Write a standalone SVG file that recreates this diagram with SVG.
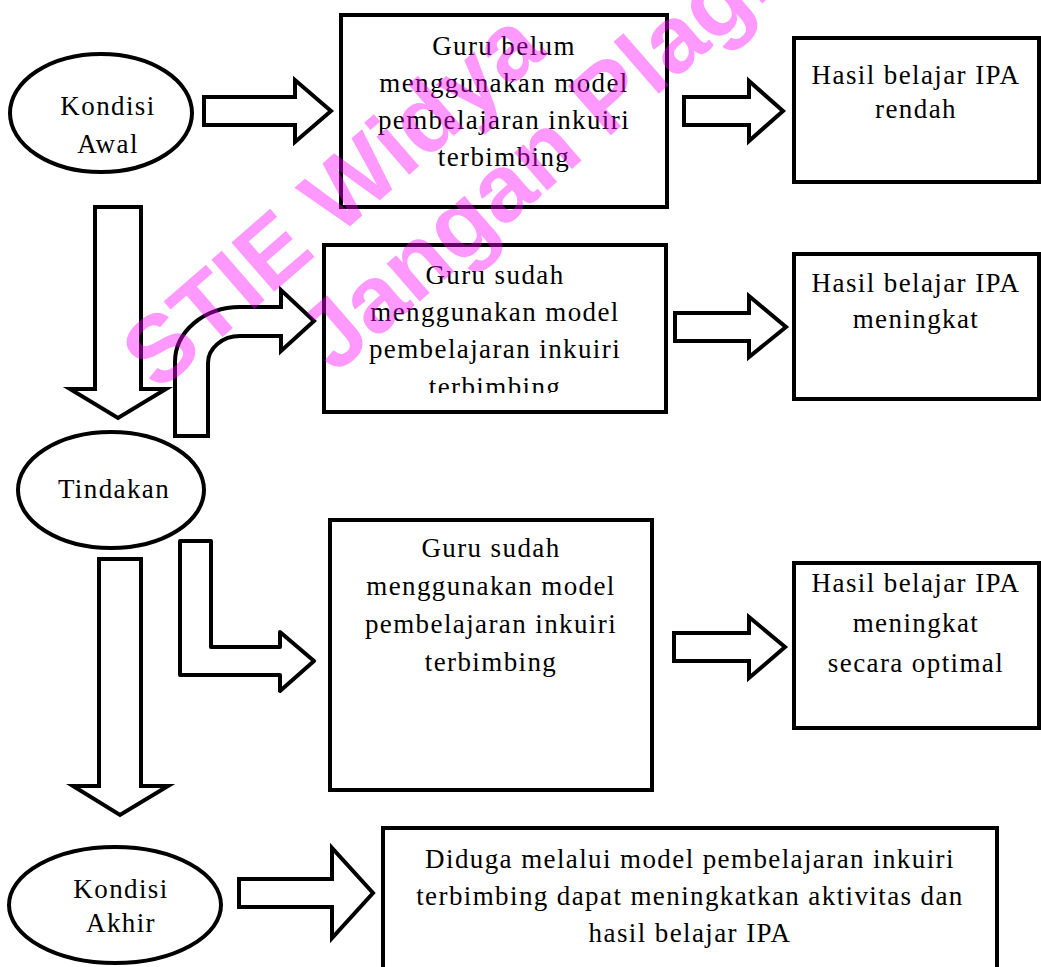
<svg xmlns="http://www.w3.org/2000/svg" width="1041" height="967" viewBox="0 0 1041 967">
<style>
.box{fill:#fff;stroke:#000;stroke-width:4}
.ell{fill:#fff;stroke:#000;stroke-width:4}
.arr{fill:#fff;stroke:#000;stroke-width:4;stroke-linejoin:miter}
.arr-r{fill:#fff;stroke:#000;stroke-width:4;stroke-linejoin:round}
.t{font-family:"Liberation Serif","Times New Roman",serif;font-size:27px;fill:#000;text-anchor:middle;letter-spacing:1.4px}
.wm{font-family:"Liberation Sans",Arial,sans-serif;font-weight:bold;font-size:95px;fill:#ff00ff;opacity:0.4}
</style>
<defs>
<clipPath id="clip3"><rect x="320" y="240" width="350" height="153"/></clipPath>
</defs>
<rect width="1041" height="967" fill="#fff"/>

<g id="connectors">
<path class="arr" d="M204,97 H295 V80 L331,111 L295,142 V125 H204 Z"/>
<path class="arr" d="M684,97 H749 V81 L783,111 L749,141 V125 H684 Z"/>
<path class="arr" d="M95,207 H141 V389 H166 L118,418 L70,389 H95 Z"/>
<path class="arr" d="M175,436 V362 A65,55 0 0 1 240,307 H281 V290 L314,321 L281,351 V336 H240 A32,27 0 0 0 208,363 V436 Z"/>
<path class="arr" d="M675,313 H749 V296 L786,327 L749,357 V341 H675 Z"/>
<path class="arr" d="M99,559 H141 V786 H168 L120,815 L73,786 H99 Z"/>
<path class="arr-r" d="M180,541 H211 V647 H280 V632 L314,661 L280,691 V675 H180 Z"/>
<path class="arr" d="M674,633 H749 V617 L785,647 L749,678 V661 H674 Z"/>
<path class="arr" d="M239,879 H332 V848 L373,893 L332,938 V907 H239 Z"/>
</g>

<g id="kondisi-awal">
<ellipse class="ell" cx="101" cy="113" rx="91" ry="59"/>
<text class="t" x="108" y="115">Kondisi</text>
<text class="t" x="108" y="153">Awal</text>
</g>

<g id="box-guru-belum">
<rect class="box" x="341" y="15" width="326" height="192"/>
<text class="t" x="504" y="55">Guru belum</text>
<text class="t" x="504" y="92">menggunakan model</text>
<text class="t" x="504" y="129">pembelajaran inkuiri</text>
<text class="t" x="504" y="166">terbimbing</text>
</g>

<g id="box-rendah">
<rect class="box" x="794" y="38" width="245" height="144"/>
<text class="t" x="916" y="84">Hasil belajar IPA</text>
<text class="t" x="916" y="118">rendah</text>
</g>

<g id="tindakan">
<ellipse class="ell" cx="111" cy="490" rx="93" ry="58"/>
<text class="t" x="114" y="498">Tindakan</text>
</g>

<g id="box-guru-sudah-1">
<rect class="box" x="324" y="245" width="342" height="167"/>
<g clip-path="url(#clip3)">
<text class="t" x="495" y="284">Guru sudah</text>
<text class="t" x="495" y="321">menggunakan model</text>
<text class="t" x="495" y="358">pembelajaran inkuiri</text>
<text class="t" x="495" y="396">terbimbing</text>
</g>
</g>

<g id="box-meningkat">
<rect class="box" x="794" y="254" width="245" height="145"/>
<text class="t" x="916" y="292">Hasil belajar IPA</text>
<text class="t" x="916" y="328">meningkat</text>
</g>

<g id="box-guru-sudah-2">
<rect class="box" x="330" y="520" width="322" height="270"/>
<text class="t" x="491" y="557">Guru sudah</text>
<text class="t" x="491" y="595">menggunakan model</text>
<text class="t" x="491" y="633">pembelajaran inkuiri</text>
<text class="t" x="491" y="671">terbimbing</text>
</g>

<g id="box-optimal">
<rect class="box" x="794" y="563" width="245" height="165"/>
<text class="t" x="916" y="592">Hasil belajar IPA</text>
<text class="t" x="916" y="632">meningkat</text>
<text class="t" x="916" y="672">secara optimal</text>
</g>

<g id="kondisi-akhir">
<ellipse class="ell" cx="115" cy="905" rx="106" ry="58"/>
<text class="t" x="121" y="898">Kondisi</text>
<text class="t" x="121" y="932">Akhir</text>
</g>

<g id="box-diduga">
<rect class="box" x="383" y="828" width="614" height="160"/>
<text class="t" x="690" y="868">Diduga melalui model pembelajaran inkuiri</text>
<text class="t" x="690" y="905">terbimbing dapat meningkatkan aktivitas dan</text>
<text class="t" x="690" y="942">hasil belajar IPA</text>
</g>

<g id="watermark">
<text class="wm" transform="translate(158,393) rotate(-41)">STIE Widya</text>
<text class="wm" transform="translate(335,375) rotate(-41)">Jangan Plagiat</text>
</g>
</svg>
